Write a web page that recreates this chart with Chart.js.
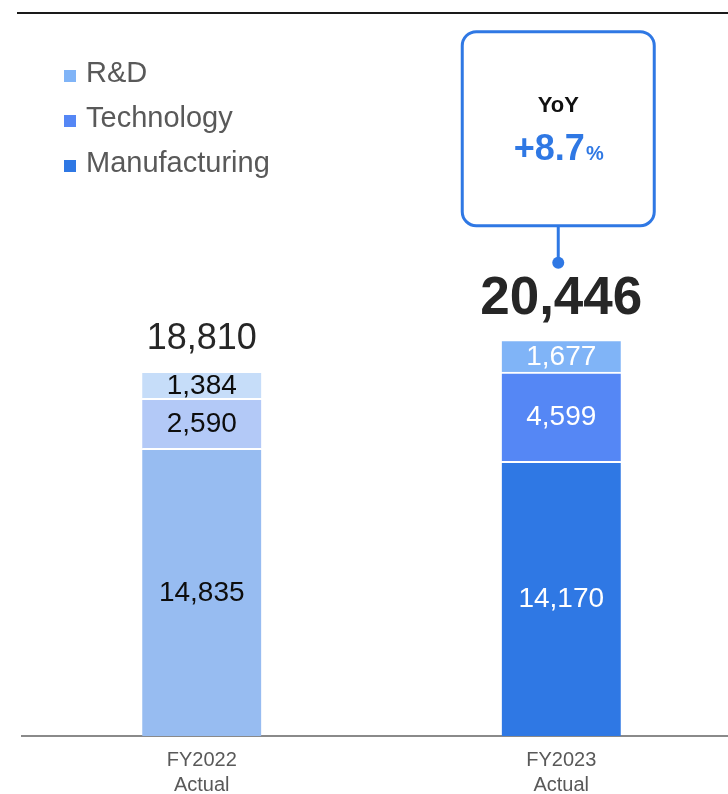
<!DOCTYPE html>
<html>
<head>
<meta charset="utf-8">
<script src="https://cdn.jsdelivr.net/npm/chart.js@4.4.1/dist/chart.umd.min.js"></script>
<style>
  body { margin: 0; background: #fff; }
  #wrap { position: relative; width: 728px; height: 794px; overflow: hidden; }
  #wrap canvas { position: absolute; left: 0; top: 0; }
  .legend { position: absolute; left: 64px; top: 50px; font-family: "Liberation Sans", Arial, sans-serif; font-size: 29px; color: #595959; }
  .legend .item { position: relative; height: 45px; line-height: 45px; padding-left: 22px; white-space: nowrap; }
  .legend .sw { position: absolute; left: 0; top: 20px; width: 12px; height: 12px; }
</style>
</head>
<body>
<div id="wrap">
  <canvas id="chart" width="741" height="813"></canvas>
  <div class="legend" id="legend"></div>
</div>
<script>
// 데이터
const categories = [["FY2022", "Actual"], ["FY2023", "Actual"]];
const manufacturing = [14835, 14170];
const technology = [2590, 4599];
const rnd = [1384, 1677];
const totals = [18810, 20446];
const yoyText = "+8.7";

// 색상 (연도별로 다름)
const mfgColors = ["#97bcf1", "#2f78e4"];
const techColors = ["#b3c9f7", "#5587f5"];
const rndColors = ["#c6ddf9", "#80b4f7"];
const labelColors = ["#0d0d0d", "#ffffff"];
const blue = "#2f78e4";
const FONT = '"Liberation Sans", Arial, sans-serif';

// 범례 (HTML)
const legendItems = [
  { name: "R&D", color: rndColors[1] },
  { name: "Technology", color: techColors[1] },
  { name: "Manufacturing", color: mfgColors[1] }
];
document.getElementById("legend").innerHTML = legendItems.map(it =>
  `<div class="item"><span class="sw" style="background:${it.color}"></span>${it.name}</div>`
).join("");

const fmt = v => v.toLocaleString("en-US");

const roundRect = (ctx, x, y, w, h, r) => {
  ctx.beginPath();
  ctx.moveTo(x + r, y);
  ctx.arcTo(x + w, y, x + w, y + h, r);
  ctx.arcTo(x + w, y + h, x, y + h, r);
  ctx.arcTo(x, y + h, x, y, r);
  ctx.arcTo(x, y, x + w, y, r);
  ctx.closePath();
};

const labelPlugin = {
  id: "labelPlugin",
  beforeDraw(chart) {
    const ctx = chart.ctx;
    ctx.save();
    ctx.strokeStyle = "#1a1a1a";
    ctx.lineWidth = 2;
    ctx.beginPath();
    ctx.moveTo(17, 13);
    ctx.lineTo(chart.width, 13);
    ctx.stroke();
    ctx.restore();
  },
  afterDraw(chart) {
    const ctx = chart.ctx;
    ctx.save();
    ctx.textAlign = "center";
    ctx.textBaseline = "middle";
    // 구간 값
    chart.data.datasets.forEach((ds, di) => {
      chart.getDatasetMeta(di).data.forEach((bar, i) => {
        ctx.fillStyle = labelColors[i];
        ctx.font = `28px ${FONT}`;
        ctx.fillText(fmt(ds.data[i]), bar.x, (bar.y + bar.base) / 2 + 1);
      });
    });
    // 합계
    const topMeta = chart.getDatasetMeta(chart.data.datasets.length - 1);
    topMeta.data.forEach((bar, i) => {
      ctx.fillStyle = "#262626";
      if (i === 0) {
        ctx.font = `36px ${FONT}`;
        ctx.fillText(fmt(totals[i]), bar.x, bar.y - 32);
      } else {
        ctx.font = `bold 53px ${FONT}`;
        ctx.fillText(fmt(totals[i]), bar.x, bar.y - 40);
      }
    });
    // YoY 박스
    const last = topMeta.data[1];
    const cx = last.x - 3;
    const dotY = last.y - 77;
    const boxBottom = dotY - 37;
    const boxTop = boxBottom - 194;
    ctx.strokeStyle = blue;
    ctx.lineWidth = 3;
    roundRect(ctx, cx - 96, boxTop, 192, boxBottom - boxTop, 14);
    ctx.stroke();
    ctx.beginPath();
    ctx.moveTo(cx, boxBottom);
    ctx.lineTo(cx, dotY);
    ctx.stroke();
    ctx.fillStyle = blue;
    ctx.beginPath();
    ctx.arc(cx, dotY, 6, 0, Math.PI * 2);
    ctx.fill();

    ctx.fillStyle = "#111";
    ctx.font = `bold 22px ${FONT}`;
    ctx.fillText("YoY", cx, boxTop + 74);
    ctx.fillStyle = blue;
    ctx.textBaseline = "alphabetic";
    ctx.font = `bold 36px ${FONT}`;
    const w1 = ctx.measureText(yoyText).width;
    ctx.font = `bold 20px ${FONT}`;
    const w2 = ctx.measureText("%").width;
    const sx = cx - (w1 + w2) / 2;
    ctx.textAlign = "left";
    ctx.font = `bold 36px ${FONT}`;
    ctx.fillText(yoyText, sx, boxTop + 128);
    ctx.font = `bold 20px ${FONT}`;
    ctx.fillText("%", sx + w1 + 1, boxTop + 128);
    ctx.restore();
  }
};

const makeSet = (label, data, colors) => ({
  label: label,
  data: data,
  backgroundColor: colors,
  borderColor: "#ffffff",
  borderWidth: { top: 2, left: 0, right: 0, bottom: 0 },
  borderSkipped: false,
  barThickness: 119
});

const chart = new Chart(document.getElementById("chart"), {
  type: "bar",
  data: {
    labels: categories,
    datasets: [
      makeSet("Manufacturing", manufacturing, mfgColors),
      makeSet("Technology", technology, techColors),
      makeSet("R&D", rnd, rndColors)
    ]
  },
  options: {
    responsive: false,
    animation: false,
    layout: { padding: { left: 22, right: 0, top: 13, bottom: 3 } },
    plugins: {
      legend: { display: false },
      tooltip: { enabled: false }
    },
    scales: {
      x: {
        stacked: true,
        z: 1,
        grid: { display: false, drawTicks: false },
        border: { display: true, color: "#8a8a8a", width: 2 },
        ticks: {
          color: "#595959",
          padding: 12,
          font: { family: FONT, size: 20, lineHeight: 1.25 }
        }
      },
      y: {
        stacked: true,
        display: false,
        min: 0,
        max: 37300
      }
    }
  },
  plugins: [labelPlugin]
});
</script>
</body>
</html>
